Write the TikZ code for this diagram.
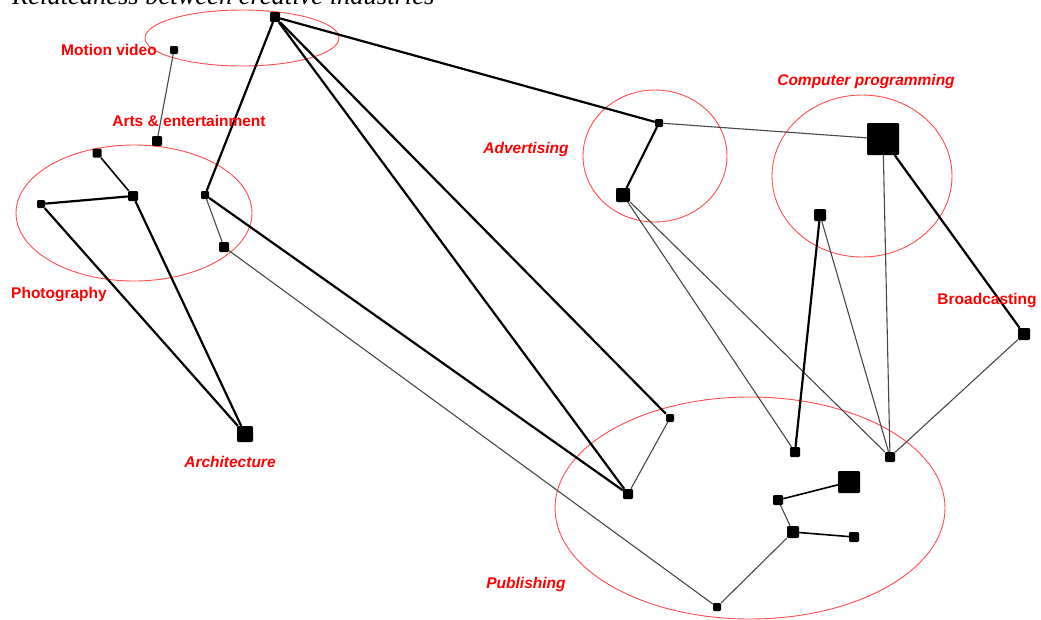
\documentclass[tikz,border=0pt]{standalone}
\usepackage{fontspec}
\setmainfont{Liberation Serif}
\newfontfamily\lblfont{Liberation Sans}
\usepackage{tikz}
\usetikzlibrary{positioning}

\begin{document}
\begin{tikzpicture}[x=1pt, y=-1pt,
    hub/.style={rectangle, fill=black, rounded corners=1.2pt, inner sep=0pt, minimum size=#1},
    strong/.style={line width=2.2pt, black},
    mid/.style={line width=1.6pt, black},
    weak/.style={line width=1.1pt, black!72},
    ring/.style={draw=red!70, line width=0.9pt},
    lbl/.style={text=red, font=\lblfont\fontsize{15.5}{18}\selectfont\bfseries},
    ilbl/.style={lbl, font=\lblfont\fontsize{15.5}{18}\selectfont\bfseries\itshape}]
                \useasboundingbox (0,0) rectangle (1041,619);

                % title, cut at the top edge
                \node[anchor=base west, inner sep=0pt, font=\fontsize{26.5}{30}\selectfont\itshape] (title) at (12,4) {Relatedness between creative industries};

                % clusters
                \draw[ring] (242,38) ellipse (97 and 28);
                \draw[ring] (134,213) ellipse (118 and 68);
                \draw[ring] (655,156) ellipse (72 and 66);
                \draw[ring] (862,176) ellipse (90 and 81);
                \draw[ring] (750,508) ellipse (195 and 111);

                % industries
                \node[hub=10pt] (top) at (275,17) {};
                \node[hub=8pt] (motion) at (174,50) {};
                \node[hub=10pt] (arts) at (157,141) {};
                \node[hub=9pt] (photoA) at (97,153) {};
                \node[hub=10pt] (photoB) at (133,196) {};
                \node[hub=8pt] (photoC) at (41,204) {};
                \node[hub=8pt] (midA) at (205,195) {};
                \node[hub=10pt] (midB) at (224,247) {};
                \node[hub=16pt] (arch) at (245,434) {};
                \node[hub=8pt] (advA) at (659,123) {};
                \node[hub=14pt] (advB) at (623,195) {};
                \node[hub=32pt] (prog) at (883,139) {};
                \node[hub=12pt] (progB) at (820,215) {};
                \node[hub=12pt] (broad) at (1024,334) {};
                \node[hub=8pt] (pubA) at (670,418) {};
                \node[hub=10pt] (pubB) at (628,494) {};
                \node[hub=10pt] (pubC) at (795,452) {};
                \node[hub=10pt] (pubD) at (890,457) {};
                \node[hub=22pt] (pubE) at (849,482) {};
                \node[hub=10pt] (pubF) at (778,500) {};
                \node[hub=12pt] (pubG) at (793,532) {};
                \node[hub=10pt] (pubH) at (854,537) {};
                \node[hub=8pt] (pubI) at (717,607) {};

                % links
                \draw[weak] (motion) -- (arts);
                \draw[strong] (top) -- (midA);
                \draw[strong] (top) -- (advA);
                \draw[strong] (top) -- (pubA);
                \draw[strong] (top) -- (pubB);
                \draw[mid] (photoA) -- (photoB);
                \draw[strong] (photoC) -- (photoB);
                \draw[strong] (photoC) -- (arch);
                \draw[strong] (photoB) -- (arch);
                \draw[weak] (midA) -- (midB);
                \draw[strong] (midA) -- (pubB);
                \draw[weak] (midB) -- (pubI);
                \draw[weak] (pubA) -- (pubB);
                \draw[strong] (advA) -- (advB);
                \draw[weak] (advA) -- (prog);
                \draw[weak] (advB) -- (pubC);
                \draw[weak] (advB) -- (pubD);
                \draw[weak] (prog) -- (pubD);
                \draw[strong] (prog) -- (broad);
                \draw[strong] (progB) -- (pubC);
                \draw[weak] (progB) -- (pubD);
                \draw[weak] (broad) -- (pubD);
                \draw[mid] (pubE) -- (pubF);
                \draw[weak] (pubF) -- (pubG);
                \draw[mid] (pubG) -- (pubH);
                \draw[weak] (pubG) -- (pubI);

                % names
                \node[lbl] (tMotion) at (109,50) {Motion video};
                \node[lbl] (tArts) at (189,121) {Arts \& entertainment};
                \node[lbl] (tPhoto) at (59,295) {Photography};
                \node[ilbl] (tArch) at (230,462) {Architecture};
                \node[ilbl] (tAdv) at (526,149) {Advertising};
                \node[ilbl] (tProg) at (866,81) {Computer programming};
                \node[lbl] (tBroad) at (987,301) {Broadcasting};
                \node[ilbl] (tPub) at (526,584) {Publishing};
            \end{tikzpicture}
\end{document}
